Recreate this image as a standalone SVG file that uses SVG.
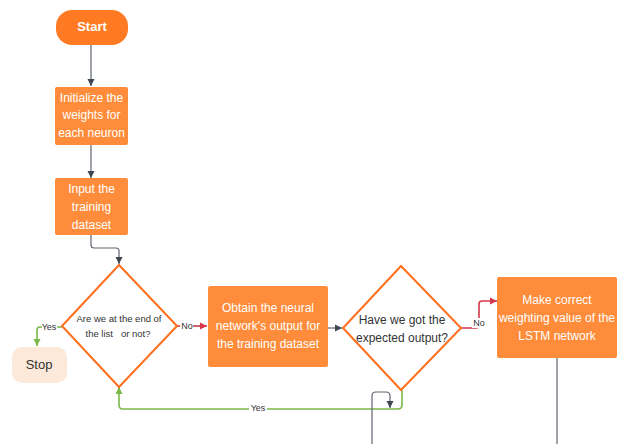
<svg xmlns="http://www.w3.org/2000/svg" width="622" height="444" viewBox="0 0 622 444">
<style>
text{font-family:"Liberation Sans",Arial,sans-serif;text-anchor:middle}
.box{fill:#FF8C3A}
.wt{fill:#FFFFFF;font-size:12px}
.dt{fill:#333333;font-size:12px}
.dt1{fill:#333333;font-size:9.5px;white-space:pre}
.dia{fill:#FFFFFF;stroke:#FF6E1C;stroke-width:2}
.gray{fill:none;stroke:#5F6670;stroke-width:1.2}
.red{fill:none;stroke:#D4374B;stroke-width:1.6}
.green{fill:none;stroke:#7AB648;stroke-width:1.6}
.lbl{fill:#333333;font-size:9px}
.lbg{fill:#FFFFFF}
</style>
<defs>
<marker id="ag" markerWidth="8" markerHeight="8" refX="7" refY="4" orient="auto" markerUnits="userSpaceOnUse"><path d="M0,0.5 L7,4 L0,7.5 Z" fill="#3D4752"/></marker>
<marker id="ar" markerWidth="8" markerHeight="8" refX="7" refY="4" orient="auto" markerUnits="userSpaceOnUse"><path d="M0,0.5 L7,4 L0,7.5 Z" fill="#D4374B"/></marker>
<marker id="agr" markerWidth="8" markerHeight="8" refX="7" refY="4" orient="auto" markerUnits="userSpaceOnUse"><path d="M0,0.5 L7,4 L0,7.5 Z" fill="#7AB648"/></marker>
</defs>
<g id="connectors">
<path class="gray" d="M91,45 V86" marker-end="url(#ag)"/>
<path class="gray" d="M91,145 V178" marker-end="url(#ag)"/>
<path class="gray" d="M91,235 V245 Q91,248 94,248 H116 Q119,248 119,251 V264" marker-end="url(#ag)"/>
<path class="green" d="M62,327 H40 Q37,327 37,330 V346" marker-end="url(#agr)"/>
<rect class="lbg" x="42" y="321" width="15" height="11"/>
<text class="lbl" x="49" y="330">Yes</text>
<path class="red" d="M177,326 H207" marker-end="url(#ar)"/>
<rect class="lbg" x="180" y="321" width="13" height="10"/>
<text class="lbl" x="187" y="329">No</text>
<path class="gray" d="M328,328 H342" marker-end="url(#ag)"/>
<path class="red" d="M461,328 H476 Q479,328 479,325 V304 Q479,301 482,301 H497" marker-end="url(#ar)"/>
<rect class="lbg" x="472" y="318" width="13" height="10"/>
<text class="lbl" x="479" y="326">No</text>
<path class="green" d="M402,390 V405 Q402,409 398,409 H123 Q119,409 119,405 V387" marker-end="url(#agr)"/>
<rect class="lbg" x="249" y="403" width="18" height="10"/>
<text class="lbl" x="258" y="411">Yes</text>
<path class="gray" d="M557,358 V444"/>
<path class="gray" d="M372,444 V396 Q372,392 376,392 H386 Q390,392 390,396 V408" marker-end="url(#ag)"/>
</g>
<g id="start">
<rect x="56" y="10" width="72" height="35" rx="16" fill="#FF7A22"/>
<text x="92" y="31" fill="#FFFFFF" font-size="13" font-weight="bold">Start</text>
</g>
<g id="init">
<rect class="box" x="55" y="87" width="73" height="58" rx="2"/>
<text class="wt" x="91.5" y="101.5">Initialize the</text>
<text class="wt" x="91.5" y="119">weights for</text>
<text class="wt" x="91.5" y="136.5">each neuron</text>
</g>
<g id="input">
<rect class="box" x="55" y="178" width="73" height="57" rx="2"/>
<text class="wt" x="91.5" y="192.5">Input the</text>
<text class="wt" x="91.5" y="210.5">training</text>
<text class="wt" x="91.5" y="228.5">dataset</text>
</g>
<g id="decision1">
<path class="dia" d="M119,265 L177,326 L119,387 L62,326 Z"/>
<text class="dt1" x="119" y="321.5">Are we at the end of</text>
<text class="dt1" x="118" y="336.5" xml:space="preserve">the list   or not?</text>
</g>
<g id="stop">
<rect x="12" y="347" width="55" height="36" rx="10" fill="#FDE9D9"/>
<text x="39" y="369" fill="#333333" font-size="13">Stop</text>
</g>
<g id="obtain">
<rect class="box" x="208" y="286" width="120" height="81" rx="2"/>
<text class="wt" x="268" y="311.5">Obtain the neural</text>
<text class="wt" x="268" y="329.5">network's output for</text>
<text class="wt" x="268" y="347.5">the training dataset</text>
</g>
<g id="decision2">
<path class="dia" d="M401,266 L461,328 L401,390 L343,328 Z"/>
<text class="dt" x="402" y="323.5">Have we got the</text>
<text class="dt" x="402" y="341.5">expected output?</text>
</g>
<g id="make">
<rect class="box" x="497" y="277" width="120" height="81" rx="2"/>
<text class="wt" x="557" y="303.5">Make correct</text>
<text class="wt" x="557" y="321.5">weighting value of the</text>
<text class="wt" x="557" y="339.5">LSTM network</text>
</g>
</svg>
